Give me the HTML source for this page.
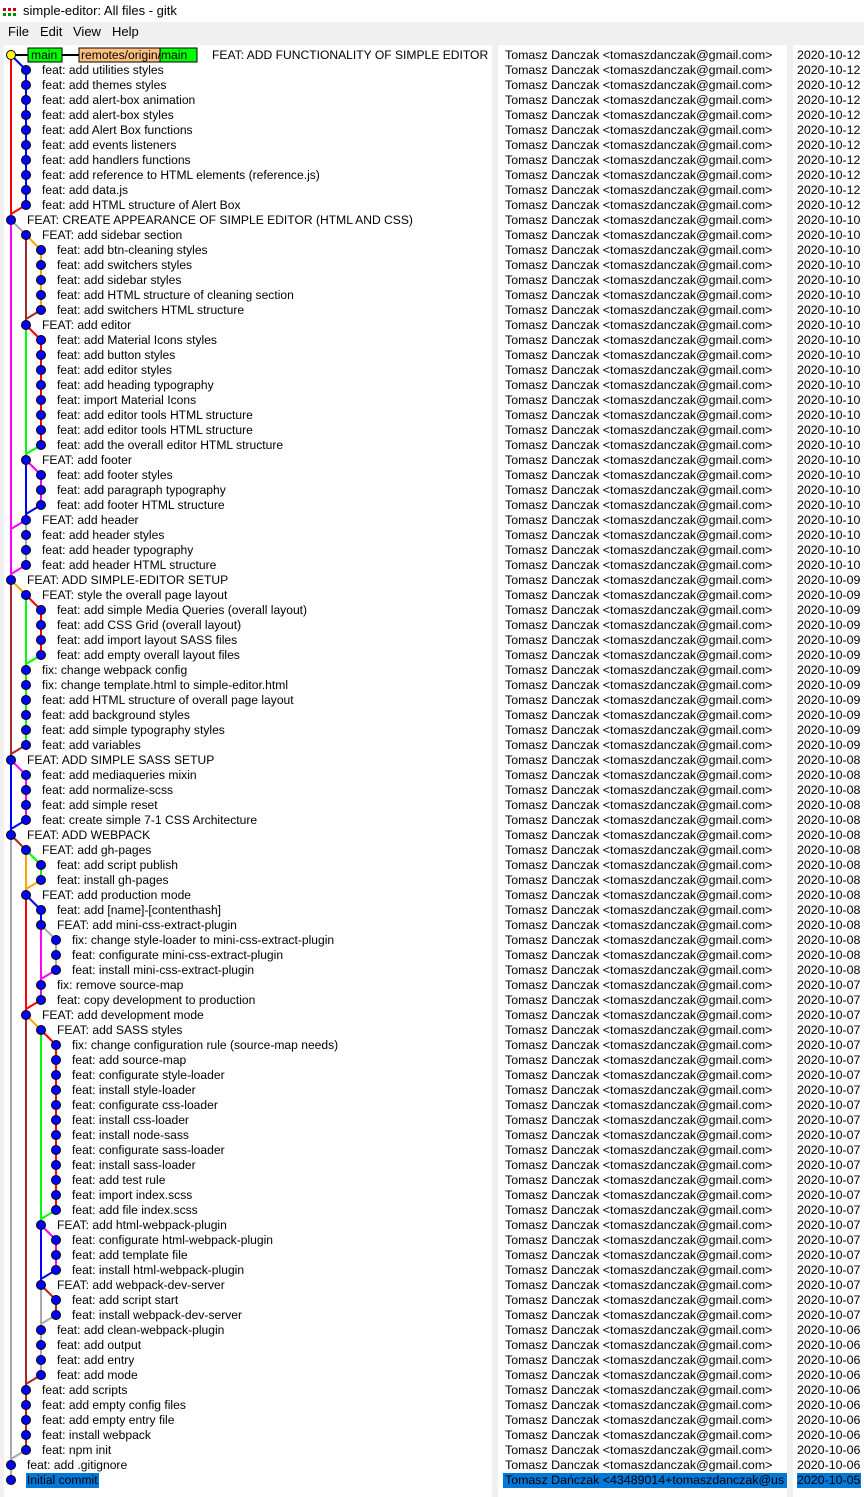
<!DOCTYPE html>
<html><head><meta charset="utf-8"><style>
body{margin:0;width:864px;height:1497px;background:#f0f0f0;font-family:"Liberation Sans",Arial,sans-serif;font-size:12.4px;color:#000;overflow:hidden;position:relative}
.abs{position:absolute;white-space:nowrap;line-height:15px}
.m{font-size:12.1px}
#title{position:absolute;left:0;top:0;width:864px;height:22px;background:#fff}
.pane{position:absolute;top:45px;height:1452px;background:#fff}
.sel{background:#0078d7;color:#000}
</style></head><body>
<div id="title"></div>
<svg width="16" height="10" style="position:absolute;left:3px;top:8px"><rect x="0" y="0" width="3" height="3" fill="#c00"/><rect x="5" y="0" width="3" height="3" fill="#c00"/><rect x="10" y="0" width="3" height="3" fill="#c00"/><rect x="0" y="5" width="3" height="3" fill="#080"/><rect x="5" y="5" width="3" height="3" fill="#080"/><rect x="10" y="5" width="3" height="3" fill="#080"/></svg>
<div class="abs" style="left:23px;top:3px;font-size:13px">simple-editor: All files - gitk</div>
<div class="abs" style="left:8px;top:24px;font-size:13px">File</div>
<div class="abs" style="left:40px;top:24px;font-size:13px">Edit</div>
<div class="abs" style="left:73px;top:24px;font-size:13px">View</div>
<div class="abs" style="left:112px;top:24px;font-size:13px">Help</div>
<div class="pane" style="left:4px;width:488px"></div>
<div class="pane" style="left:498px;width:289px"></div>
<div class="pane" style="left:793px;width:71px"></div>
<svg id="g" width="500" height="1497" style="position:absolute;left:0;top:0"></svg>
<div id="t"></div>
<script>
(function(){
var R=[[0,"FEAT: ADD FUNCTIONALITY OF SIMPLE EDITOR"],
[1,"feat: add utilities styles"],[1,"feat: add themes styles"],[1,"feat: add alert-box animation"],[1,"feat: add alert-box styles"],[1,"feat: add Alert Box functions"],[1,"feat: add events listeners"],[1,"feat: add handlers functions"],[1,"feat: add reference to HTML elements (reference.js)"],[1,"feat: add data.js"],[1,"feat: add HTML structure of Alert Box"],
[0,"FEAT: CREATE APPEARANCE OF SIMPLE EDITOR (HTML AND CSS)"],
[1,"FEAT: add sidebar section"],[2,"feat: add btn-cleaning styles"],[2,"feat: add switchers styles"],[2,"feat: add sidebar styles"],[2,"feat: add HTML structure of cleaning section"],[2,"feat: add switchers HTML structure"],
[1,"FEAT: add editor"],[2,"feat: add Material Icons styles"],[2,"feat: add button styles"],[2,"feat: add editor styles"],[2,"feat: add heading typography"],[2,"feat: import Material Icons"],[2,"feat: add editor tools HTML structure"],[2,"feat: add editor tools HTML structure"],[2,"feat: add the overall editor HTML structure"],
[1,"FEAT: add footer"],[2,"feat: add footer styles"],[2,"feat: add paragraph typography"],[2,"feat: add footer HTML structure"],
[1,"FEAT: add header"],[1,"feat: add header styles"],[1,"feat: add header typography"],[1,"feat: add header HTML structure"],
[0,"FEAT: ADD SIMPLE-EDITOR SETUP"],[1,"FEAT: style the overall page layout"],[2,"feat: add simple Media Queries (overall layout)"],[2,"feat: add CSS Grid (overall layout)"],[2,"feat: add import layout SASS files"],[2,"feat: add empty overall layout files"],
[1,"fix: change webpack config"],[1,"fix: change template.html to simple-editor.html"],[1,"feat: add HTML structure of overall page layout"],[1,"feat: add background styles"],[1,"feat: add simple typography styles"],[1,"feat: add variables"],
[0,"FEAT: ADD SIMPLE SASS SETUP"],[1,"feat: add mediaqueries mixin"],[1,"feat: add normalize-scss"],[1,"feat: add simple reset"],[1,"feat: create simple 7-1 CSS Architecture"],
[0,"FEAT: ADD WEBPACK"],[1,"FEAT: add gh-pages"],[2,"feat: add script publish"],[2,"feat: install gh-pages"],
[1,"FEAT: add production mode"],[2,"feat: add [name]-[contenthash]"],[2,"FEAT: add mini-css-extract-plugin"],[3,"fix: change style-loader to mini-css-extract-plugin"],[3,"feat: configurate mini-css-extract-plugin"],[3,"feat: install mini-css-extract-plugin"],[2,"fix: remove source-map"],[2,"feat: copy development to production"],
[1,"FEAT: add development mode"],[2,"FEAT: add SASS styles"],[3,"fix: change configuration rule (source-map needs)"],[3,"feat: add source-map"],[3,"feat: configurate style-loader"],[3,"feat: install style-loader"],[3,"feat: configurate css-loader"],[3,"feat: install css-loader"],[3,"feat: install node-sass"],[3,"feat: configurate sass-loader"],[3,"feat: install sass-loader"],[3,"feat: add test rule"],[3,"feat: import index.scss"],[3,"feat: add file index.scss"],
[2,"FEAT: add html-webpack-plugin"],[3,"feat: configurate html-webpack-plugin"],[3,"feat: add template file"],[3,"feat: install html-webpack-plugin"],
[2,"FEAT: add webpack-dev-server"],[3,"feat: add script start"],[3,"feat: install webpack-dev-server"],
[2,"feat: add clean-webpack-plugin"],[2,"feat: add output"],[2,"feat: add entry"],[2,"feat: add mode"],
[1,"feat: add scripts"],[1,"feat: add empty config files"],[1,"feat: add empty entry file"],[1,"feat: install webpack"],[1,"feat: npm init"],
[0,"feat: add .gitignore"],[0,"Initial commit"]];
function X(c){return 11+15*c}function Y(r){return 55+15*r}
var s="";
function L(r1,c1,r2,c2,col){s+='<line x1="'+X(c1)+'" y1="'+Y(r1)+'" x2="'+X(c2)+'" y2="'+Y(r2)+'" stroke="'+col+'" stroke-width="2"/>';}
var red="#f00",blue="#00f",mag="#f0f",gray="#aaa",brown="#a52a2a",or="#ffa500",grn="#0f0";
function M(r,c,end,fc,bEnd,bc,ic,startC){
 L(r,c,end,c,fc);
 L(r,c,r+1,c+1,startC||bc);
 if(bEnd>r+1)L(r+1,c+1,bEnd,c+1,bc);
 L(bEnd,c+1,bEnd+0.6,c,ic||fc);
}
M(0,0,11,red,10,blue,red);
L(11,0,35,0,mag);L(11,0,12,1,gray);
M(12,1,18,brown,17,or,brown);
M(18,1,27,grn,26,red,grn);
M(27,1,31,blue,30,mag,blue);
L(31,1,34,1,gray);L(31,1,31.6,0,mag);L(34,1,34.6,0,mag);
L(35,0,47,0,brown);L(35,0,36,1,or);
M(36,1,46,grn,40,red,grn);L(46,1,46.6,0,brown);
M(47,0,52,blue,51,mag,blue);
L(52,0,95,0,gray);L(52,0,53,1,brown);
M(53,1,56,or,55,grn,or);
L(56,1,89,1,red);L(56,1,57,2,blue);L(57,2,58,2,blue);
M(58,2,62,mag,61,gray,mag);
L(62,2,63,2,mag);L(63,2,63.6,1,red);
L(64,1,93,1,brown);L(64,1,65,2,or);
M(65,2,78,grn,77,red,grn);
M(78,2,82,blue,81,mag,blue);
M(82,2,88,gray,84,brown,gray);
L(88,2,88.6,1,brown);L(93,1,93.6,0,gray);
s+='<line x1="11" y1="55" x2="28" y2="55" stroke="#000" stroke-width="2"/>';
s+='<line x1="62" y1="55" x2="79" y2="55" stroke="#000" stroke-width="2"/>';
for(var i=0;i<R.length;i++){var c=R[i][0];
 s+='<circle cx="'+X(c)+'" cy="'+Y(i)+'" r="4.5" fill="'+(i==0?"#ff0":"#00f")+'" stroke="#000" stroke-width="1"/>';}
s+='<rect x="28" y="48" width="34" height="14" fill="#0f0" stroke="#000"/><rect x="79" y="48" width="104" height="14" fill="#ffc080" stroke="#000"/><rect x="160" y="48" width="37" height="14" fill="#0f0" stroke="#000"/><rect x="79" y="48" width="118" height="14" fill="none" stroke="#000"/>';
document.getElementById("g").innerHTML=s;
var h="";
h+='<div class="abs m" style="left:31px;top:48px">main</div><div class="abs m" style="left:81px;top:48px">remotes/origin/main</div>';
for(var i=0;i<R.length;i++){var c=R[i][0],tp=Y(i)-7;
 var x=i==0?212:X(c)+16;
 var d=i<=10?"2020-10-12":i<=34?"2020-10-10":i<=46?"2020-10-09":i<=61?"2020-10-08":i<=84?"2020-10-07":i<=94?"2020-10-06":"2020-10-05";
 var a=i==95?"Tomasz Dańczak &lt;43489014+tomaszdanczak@us":"Tomasz Danczak &lt;tomaszdanczak@gmail.com&gt;";
 var sel=i==95;
 h+='<div class="abs m'+(sel?' sel':'')+'" style="left:'+(sel?x-1:x)+'px;top:'+tp+'px;'+(sel?'padding:0 1px':'')+'">'+R[i][1]+'</div>';
 h+='<div class="abs'+(sel?' sel':'')+'" style="left:'+(sel?503:505)+'px;top:'+tp+'px;'+(sel?'width:282px;padding-left:2px;overflow:hidden':'')+'">'+a+'</div>';
 h+='<div class="abs'+(sel?' sel':'')+'" style="left:797px;top:'+tp+'px;'+(sel?'width:64px;overflow:hidden':'')+'">'+d+'</div>';
}
document.getElementById("t").innerHTML=h;
})();
</script>
</body></html>
